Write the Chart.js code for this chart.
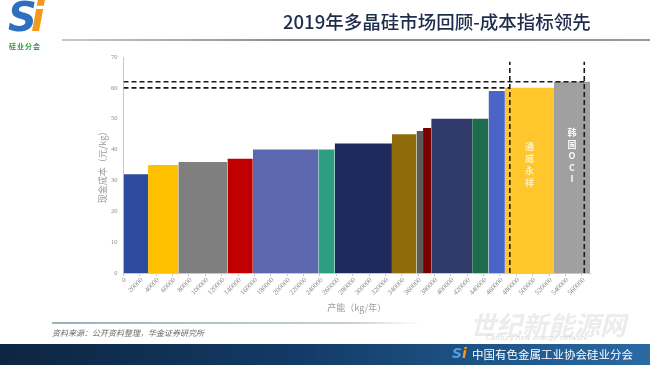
<!DOCTYPE html>
<html>
<head>
<meta charset="utf-8">
<script src="https://cdn.jsdelivr.net/npm/chart.js@4.4.1/dist/chart.umd.min.js"></script>
<style>
  html, body { margin:0; padding:0; background:#fff; }
  body { width:650px; height:365px; position:relative; overflow:hidden; font-family:"Noto Sans CJK SC", sans-serif; }
  #c { position:absolute; left:0; top:0; }
  .ov { position:absolute; white-space:nowrap; }
</style>
</head>
<body>
<canvas id="c" width="650" height="365"></canvas>

<!-- header -->
<div class="ov" style="left:8px;top:-6px;font:italic bold 40px 'DejaVu Sans';color:#2f6fc0;letter-spacing:-6px;">S<span style="color:#f39a1e">i</span></div>
<div class="ov" style="left:9px;top:41px;font:bold 7px 'Noto Sans CJK SC';color:#2e9a3e;letter-spacing:1px;">硅业分会</div>
<div class="ov" style="left:283px;top:8px;font:500 18.5px 'Noto Sans CJK SC';color:#1f2d4d;line-height:26px;">2019年多晶硅市场回顾-成本指标领先</div>
<div class="ov" style="left:62px;top:39px;width:588px;height:2px;background:linear-gradient(to right,#c8c8c8,#8c8c8c 40%,#9a9a9a);"></div>

<!-- footer -->
<div class="ov" style="left:52px;top:322px;width:370px;height:1.5px;background:linear-gradient(to right,#9fb0b8,#c5d0d4 80%,rgba(255,255,255,0));"></div>
<div class="ov" style="left:52px;top:327px;font:italic 8px 'Noto Sans CJK SC';color:#6a6a6a;">资料来源：公开资料整理，华金证券研究所</div>
<div class="ov" style="left:470px;top:305px;font:italic bold 26px 'Noto Sans CJK SC';color:rgba(170,170,170,0.22);">世纪新能源网</div>
<div class="ov" style="left:486px;top:334px;font:italic 7px 'DejaVu Sans';color:rgba(150,150,150,0.35);">Century new energy network</div>
<div class="ov" style="left:0;top:344px;width:650px;height:21px;background:linear-gradient(to right,#0d2540,#123a66 45%,#2a6aa3);"></div>
<div class="ov" style="left:452px;top:345px;font:italic bold 14px 'DejaVu Sans';color:#4fa0e0;">S<span style="color:#f39a1e">i</span></div>
<div class="ov" style="left:472px;top:346px;font:11.5px 'Noto Sans CJK SC';color:#ffffff;line-height:17px;">中国有色金属工业协会硅业分会</div>

<script>
// ---- data ----
const capacityWidths = [30000, 37000, 60000, 31000, 80000, 20000, 70000, 30000, 8000, 10000, 50000, 20000, 20000, 60000, 44000];
const cashCosts      = [32, 35, 36, 37, 40, 40, 42, 45, 46, 47, 50, 50, 59, 60, 62];
const barLabels      = ['', '', '', '', '', '', '', '', '', '', '', '', '', '通威永祥', '韩国OCI'];
const refCosts       = [62, 60];
const refCapacities  = [563000, 472000];
const refTop         = 68.5;
const xTickStep      = 20000;
const xTickMax       = 560000;
const xAxisMax       = 570000;

// ---- styles ----
const barColors = ['#2e4a9e', '#ffc000', '#7f7f7f', '#c00000', '#5b67ae', '#2e9e83', '#1f2a5c',
                   '#8f6b0a', '#5a5a5a', '#7a0000', '#2f3a6b', '#1e6b4e', '#4a64c8', '#ffc72c', '#a0a0a0'];

const xTickValues = [];
for (let v = 0; v <= xTickMax; v += xTickStep) xTickValues.push(v);

const datasets = [];
// dashed reference lines
refCosts.forEach((c, i) => {
  datasets.push({ data: [{x: 0, y: c}, {x: refCapacities[i], y: c}], borderColor: '#1a1a1a', borderWidth: 1.6,
    borderDash: [5, 3], pointRadius: 0, fill: false, order: 0 });
  datasets.push({ data: [{x: refCapacities[i], y: 0}, {x: refCapacities[i], y: refTop}], borderColor: '#1a1a1a', borderWidth: 1.6,
    borderDash: [5, 3], pointRadius: 0, fill: false, order: 0 });
});
// variable-width bars (cost curve)
let start = 0;
capacityWidths.forEach((w, i) => {
  datasets.push({ data: [{x: start, y: cashCosts[i]}, {x: start + w, y: cashCosts[i]}],
    borderWidth: 0, borderColor: 'rgba(0,0,0,0)', backgroundColor: barColors[i], pointRadius: 0,
    fill: 'origin', tension: 0, order: 1, barLabel: barLabels[i] });
  start += w;
});

const barTextPlugin = {
  id: 'barText',
  afterDatasetsDraw(chart) {
    const ctx = chart.ctx, xs = chart.scales.x;
    const opts = [
      {color: 'rgba(255,248,215,0.85)', top: 147, step: 12},
      {color: 'rgba(255,255,255,0.95)', top: 133, step: 11.5}
    ];
    let k = 0;
    chart.data.datasets.forEach(ds => {
      if (!ds.barLabel) return;
      const cx = (xs.getPixelForValue(ds.data[0].x) + xs.getPixelForValue(ds.data[1].x)) / 2;
      const o = opts[k++] || opts[0];
      ctx.save();
      ctx.fillStyle = o.color;
      ctx.font = 'bold 9px "Noto Sans CJK SC"';
      ctx.textAlign = 'center';
      ctx.textBaseline = 'middle';
      Array.from(ds.barLabel).forEach((ch, j) => ctx.fillText(ch, cx, o.top + j * o.step));
      ctx.restore();
    });
  }
};

// x tick labels drawn at 45 degrees from the scale's own tick positions
const xLabelPlugin = {
  id: 'xLabels',
  afterDraw(chart) {
    const ctx = chart.ctx, xs = chart.scales.x;
    ctx.save();
    ctx.fillStyle = '#8a8a8a';
    ctx.font = '7px "Liberation Serif"';
    ctx.textAlign = 'right';
    ctx.textBaseline = 'middle';
    xs.ticks.forEach(t => {
      const px = xs.getPixelForValue(t.value);
      ctx.save();
      ctx.translate(px + 2, xs.top + 6);
      ctx.rotate(-Math.PI / 4);
      ctx.fillText(String(t.value), 0, 0);
      ctx.restore();
    });
    ctx.restore();
  }
};

new Chart(document.getElementById('c'), {
  type: 'line',
  data: { datasets },
  plugins: [barTextPlugin, xLabelPlugin],
  options: {
    responsive: false,
    animation: false,
    devicePixelRatio: 1,
    layout: { padding: { left: 94, top: 57, right: 60, bottom: 48 } },
    plugins: { legend: { display: false }, tooltip: { enabled: false } },
    scales: {
      x: {
        type: 'linear', min: 0, max: xAxisMax,
        afterBuildTicks: s => { s.ticks = xTickValues.map(v => ({ value: v })); },
        afterFit: s => { s.height = 44; },
        ticks: { display: false },
        grid: { display: true, drawOnChartArea: false, drawTicks: true, tickLength: 3, color: '#c8c8c8' },
        border: { color: '#c8c8c8', width: 1 },
        title: { display: true, text: '产能（kg/年）', color: '#9a9a9a', font: { size: 9, family: '"Noto Sans CJK SC"' }, padding: { top: 2, bottom: 4 } }
      },
      y: {
        min: 0, max: 70,
        afterFit: s => { s.width = 29.5; },
        ticks: { stepSize: 10, color: '#8a8a8a', font: { size: 6.5, family: '"Liberation Serif"' }, padding: 6 },
        grid: { display: false, drawTicks: false },
        border: { color: '#c8c8c8', width: 1 },
        title: { display: true, text: '现金成本（元/kg）', color: '#9a9a9a', font: { size: 9, family: '"Noto Sans CJK SC"' }, padding: { top: 3, bottom: 2 } }
      }
    }
  }
});
</script>
</body>
</html>
